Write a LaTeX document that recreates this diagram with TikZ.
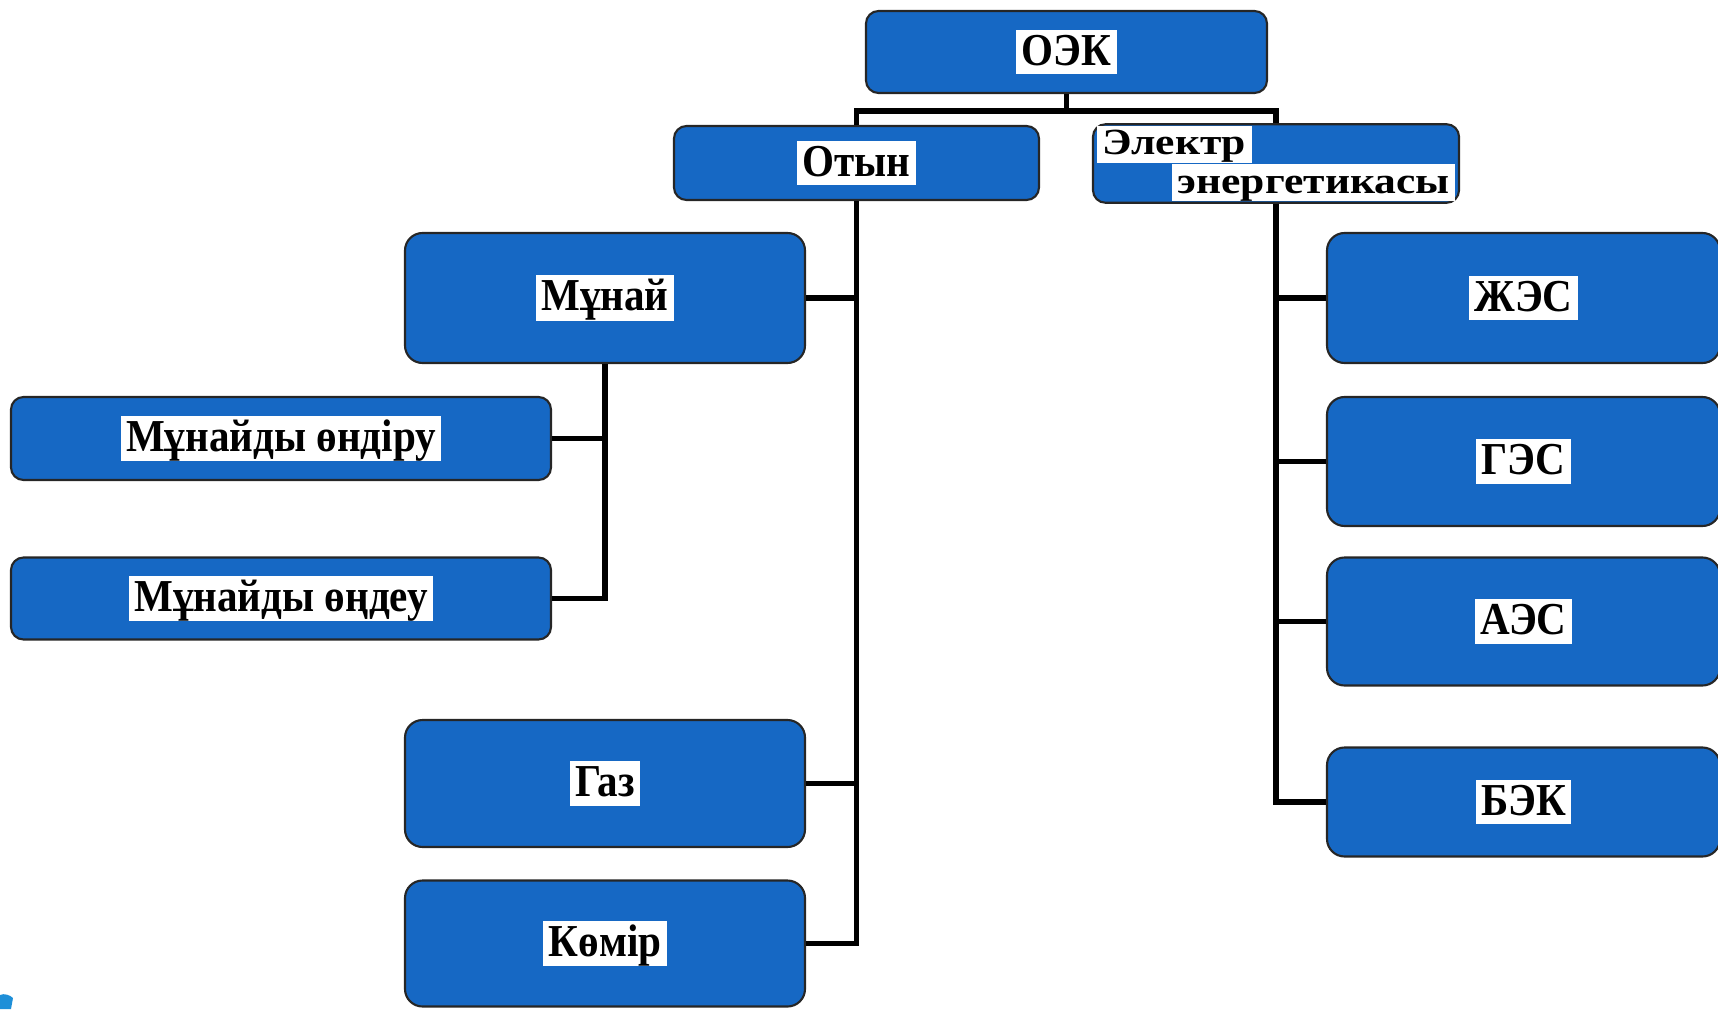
\documentclass[tikz,border=0pt]{standalone}
\usepackage{fontspec}
\setmainfont{Liberation Serif}
\newfontfamily\boxfont[FakeStretch=0.9]{Liberation Serif}
\newfontfamily\wideboxfont[FakeStretch=1.18]{Liberation Serif}
\usepackage{xcolor}
\usepackage{tikz}
\usetikzlibrary{positioning}

\definecolor{boxblue}{HTML}{1668C4}
\definecolor{cornerblue}{HTML}{1E8FD8}
\newcommand{\lbl}[1]{{\setlength{\fboxsep}{0pt}\colorbox{white}{\hspace{3pt}\vrule height 0.78em depth 0.2em width 0pt#1\hspace{3pt}}}}

\begin{document}
\begin{tikzpicture}[
    node distance=3.2cm,
    box/.style={rectangle, draw=black!85, line width=1.2pt, fill=boxblue, rounded corners=0.35cm, inner sep=0pt, align=center, font=\boxfont\bfseries\fontsize{26}{30}\selectfont},
    small/.style={rounded corners=0.25cm},
    link/.style={line width=3pt, black}
]
    \useasboundingbox (0,0) rectangle (34.36,-20.18);

    \node[box, small, minimum width=8.02cm, minimum height=1.64cm] (oek) at (21.33,-1.04) {\lbl{ОЭК}};
    \node[box, small, below of=oek, xshift=-4.2cm, yshift=0.98cm, minimum width=7.3cm, minimum height=1.48cm] (otyn) {\lbl{Отын}};
    \node[box, small, below of=oek, xshift=4.19cm, yshift=0.97cm, minimum width=7.32cm, minimum height=1.54cm, inner xsep=0.08cm, inner ysep=1pt, text width=7.16cm, align=left, font=\wideboxfont\bfseries\fontsize{21}{20.5}\selectfont] (elektr) {\lbl{Электр}\\\hspace*{\fill}\lbl{энергетикасы}};

    \node[box, below of=otyn, xshift=-5.03cm, yshift=0.5cm, minimum width=8cm, minimum height=2.6cm] (munai) {\lbl{Мұнай}};
    \node[box, small, below of=munai, xshift=-6.48cm, yshift=0.39cm, minimum width=10.8cm, minimum height=1.66cm] (ondiru) {\lbl{Мұнайды өндіру}};
    \node[box, small, below of=ondiru, minimum width=10.8cm, minimum height=1.64cm] (ondeu) {\lbl{Мұнайды өңдеу}};
    \node[box, below of=munai, yshift=-6.51cm, minimum width=8cm, minimum height=2.54cm] (gaz) {\lbl{Газ}};
    \node[box, below of=gaz, minimum width=8cm, minimum height=2.52cm] (komir) {\lbl{Көмір}};

    \node[box, below of=elektr, xshift=4.95cm, yshift=0.51cm, minimum width=7.86cm, minimum height=2.6cm] (zhes) {\lbl{ЖЭС}};
    \node[box, below of=zhes, yshift=-0.07cm, minimum width=7.86cm, minimum height=2.58cm] (ges) {\lbl{ГЭС}};
    \node[box, below of=ges, minimum width=7.86cm, minimum height=2.56cm] (aes) {\lbl{АЭС}};
    \node[box, below of=aes, yshift=-0.41cm, minimum width=7.86cm, minimum height=2.18cm] (bek) {\lbl{БЭК}};

    \draw[link] (oek.south) -- ++(0,-0.34) -| (otyn.north);
    \draw[link] (oek.south) -- ++(0,-0.34) -| (elektr.north);

    \draw[link] (otyn.south) |- (munai.east);
    \draw[link] (otyn.south) |- (gaz.east);
    \draw[link] (otyn.south) |- (komir.east);

    \draw[link] (munai.south) |- (ondiru.east);
    \draw[link] (munai.south) |- (ondeu.east);

    \draw[link] (elektr.south) |- (zhes.west);
    \draw[link] (elektr.south) |- (ges.west);
    \draw[link] (elektr.south) |- (aes.west);
    \draw[link] (elektr.south) |- (bek.west);

    \fill[cornerblue] (0,-20.18) -- (0,-19.9) .. controls (0.08,-19.86) and (0.2,-19.9) .. (0.26,-19.96) -- (0.22,-20.18) -- cycle;
\end{tikzpicture}
\end{document}
